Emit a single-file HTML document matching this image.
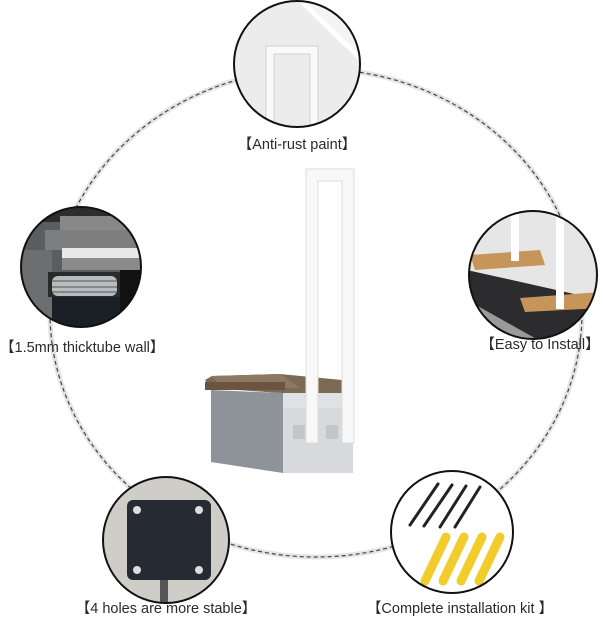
<!DOCTYPE html>
<html><head><meta charset="utf-8"><style>
html,body{margin:0;padding:0;background:#fff;width:603px;height:620px;overflow:hidden}
svg{display:block}
text{font-family:"Liberation Sans","DejaVu Sans",sans-serif;font-size:14.5px;fill:#2a2a2a}
</style></head><body>
<svg width="603" height="620" viewBox="0 0 603 620" xmlns="http://www.w3.org/2000/svg">
<defs>
<clipPath id="cT"><circle cx="297" cy="64" r="63"/></clipPath>
<clipPath id="cL"><circle cx="81" cy="267" r="60"/></clipPath>
<clipPath id="cR"><circle cx="533" cy="275" r="64"/></clipPath>
<clipPath id="cBL"><circle cx="166" cy="540" r="63"/></clipPath>
<clipPath id="cBR"><circle cx="452" cy="532" r="61"/></clipPath>
</defs>
<ellipse cx="316" cy="313" rx="266" ry="244" fill="none" stroke="#e4e4e4" stroke-width="5"/>
<ellipse cx="316" cy="313" rx="266" ry="244" fill="none" stroke="#444" stroke-width="1.2" stroke-dasharray="4 3"/>

<polygon points="205,380 212,376 280,374 342,380 342,393 280,393 210,388" fill="#7d6a55"/>
<polygon points="212,376 280,374 300,388 222,388" fill="#8d7962"/>
<rect x="205" y="382" width="80" height="8" fill="#6b5440"/>
<polygon points="211,390 283,393 283,473 211,462" fill="#8e939a"/>
<rect x="283" y="393" width="70" height="80" fill="#dfe1e5"/>
<rect x="283" y="408" width="70" height="65" fill="#d7d9dd"/>
<rect x="293" y="425" width="12" height="14" fill="#c2c5ca"/>
<rect x="326" y="425" width="12" height="14" fill="#c2c5ca"/>
<path d="M306,169 H354 V443 H342 V181 H318 V443 H306 Z" fill="#f8f8f8" stroke="#dcdcdc" stroke-width="1"/>

<g clip-path="url(#cT)">
<rect x="230" y="0" width="140" height="130" fill="#ececec"/>
<polygon points="300,0 370,0 370,70" fill="#f4f4f4"/>
<line x1="300" y1="0" x2="362" y2="60" stroke="#fff" stroke-width="5"/>
<path d="M266,130 V46 H318 V130 H310 V54 H274 V130 Z" fill="#fafafa" stroke="#d0d0d0"/>
</g>
<circle cx="297" cy="64" r="63" fill="none" stroke="#111" stroke-width="2"/>

<g clip-path="url(#cL)">
<rect x="20" y="207" width="122" height="120" fill="#5b5d60"/>
<rect x="20" y="207" width="122" height="15" fill="#2d2d2f"/>
<rect x="60" y="216" width="80" height="14" fill="#888"/>
<rect x="45" y="230" width="97" height="20" fill="#7c7e80"/>
<rect x="62" y="248" width="78" height="10" fill="#e8e8e8"/>
<rect x="62" y="258" width="78" height="12" fill="#8a8a8a"/>
<rect x="20" y="250" width="32" height="77" fill="#6c6e70"/>
<rect x="48" y="272" width="75" height="25" fill="#2a2a2a"/>
<rect x="52" y="276" width="65" height="20" rx="6" fill="#b9bcbf"/>
<line x1="52" y1="281" x2="117" y2="281" stroke="#555"/><line x1="52" y1="287" x2="117" y2="287" stroke="#555"/><line x1="52" y1="292" x2="117" y2="292" stroke="#555"/>
<rect x="52" y="297" width="68" height="30" fill="#1b1f26"/>
<rect x="120" y="270" width="22" height="57" fill="#111"/>
</g>
<circle cx="81" cy="267" r="60" fill="none" stroke="#111" stroke-width="2"/>

<g clip-path="url(#cR)">
<rect x="467" y="211" width="134" height="130" fill="#e6e6e6"/>
<polygon points="467,270 601,300 601,341 467,341" fill="#2c2c2e"/>
<polygon points="467,300 540,341 467,341" fill="#9a9a9a"/>
<polygon points="470,255 540,250 545,265 475,270" fill="#c6955a"/>
<polygon points="520,298 601,292 601,308 525,312" fill="#c6955a"/>
<rect x="511" y="211" width="8" height="50" fill="#fff"/>
<rect x="556" y="211" width="8" height="98" fill="#fff"/>
</g>
<circle cx="533" cy="275" r="64" fill="none" stroke="#111" stroke-width="2"/>

<g clip-path="url(#cBL)">
<rect x="100" y="475" width="132" height="130" fill="#cfcdc8"/>
<rect x="127" y="500" width="84" height="80" rx="6" fill="#252a33"/>
<circle cx="137" cy="510" r="4" fill="#ddd"/><circle cx="199" cy="510" r="4" fill="#ddd"/>
<circle cx="137" cy="570" r="4" fill="#ddd"/><circle cx="199" cy="570" r="4" fill="#ddd"/>
<rect x="160" y="580" width="8" height="25" fill="#555"/>
</g>
<circle cx="166" cy="540" r="63" fill="none" stroke="#111" stroke-width="2"/>

<g clip-path="url(#cBR)">
<rect x="390" y="470" width="124" height="124" fill="#fff"/>
<g stroke="#222" stroke-width="3" stroke-linecap="round">
<line x1="438" y1="484" x2="410" y2="525"/><line x1="452" y1="485" x2="424" y2="526"/>
<line x1="466" y1="486" x2="440" y2="527"/><line x1="480" y1="487" x2="455" y2="527"/>
</g>
<g stroke="#f2cc2a" stroke-width="9" stroke-linecap="round">
<line x1="446" y1="537" x2="425" y2="581"/><line x1="464" y1="537" x2="443" y2="581"/>
<line x1="482" y1="537" x2="461" y2="581"/><line x1="500" y1="537" x2="479" y2="581"/>
</g>
</g>
<circle cx="452" cy="532" r="61" fill="none" stroke="#111" stroke-width="2"/>

<text x="297" y="149" text-anchor="middle">【Anti-rust paint】</text>
<text x="0" y="352">【1.5mm thicktube wall】</text>
<text x="540" y="349" text-anchor="middle">【Easy to Install】</text>
<text x="166" y="613" text-anchor="middle">【4 holes are more stable】</text>
<text x="460" y="613" text-anchor="middle">【Complete installation kit 】</text>
</svg>
</body></html>
